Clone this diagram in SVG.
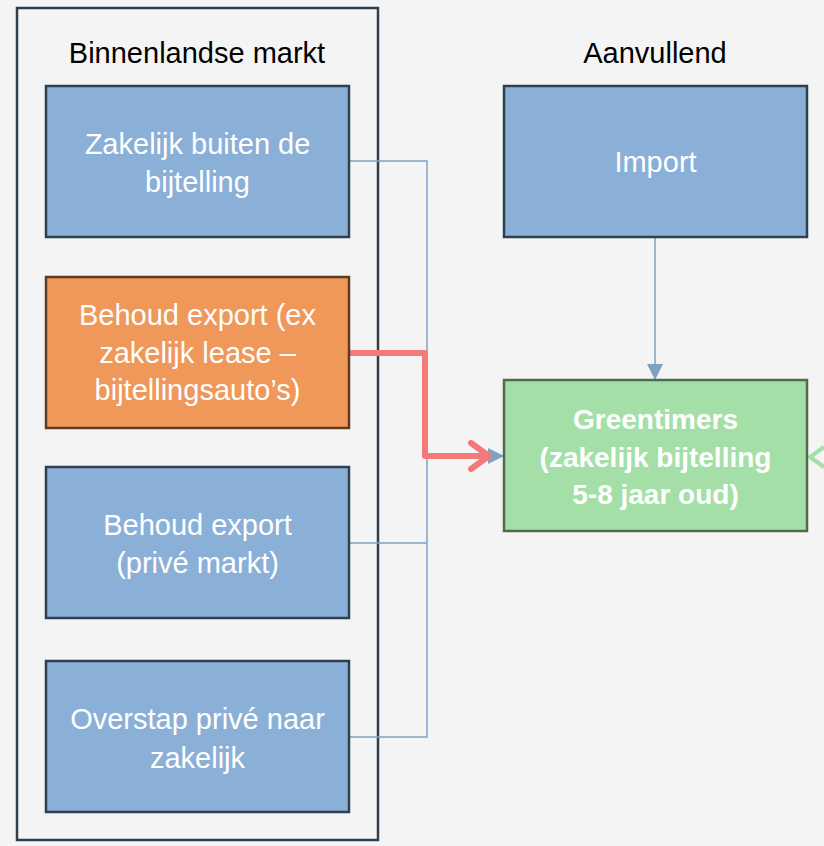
<svg xmlns="http://www.w3.org/2000/svg" width="824" height="846" viewBox="0 0 824 846">
<style>
text{font-family:"Liberation Sans",Arial,sans-serif;font-size:29px;text-anchor:middle}
.t{fill:#000}
.w{fill:#fff}
.b{font-weight:bold;font-size:28px}
.blue{fill:#8bb0d8;stroke:#2e4050;stroke-width:2.5}
.org{fill:#f0975a;stroke:#5e3a1f;stroke-width:2.5}
.grn{fill:#a4dfa8;stroke:#4e6b4f;stroke-width:2.5}
.cb{fill:none;stroke:#7fa2c3;stroke-width:1.5}
</style>
<defs>
<marker id="tri" viewBox="0 0 10 10" refX="10" refY="5" markerWidth="16" markerHeight="16" markerUnits="userSpaceOnUse" orient="auto">
<path d="M0,0 L10,5 L0,10 Z" fill="#7fa2c3"/>
</marker>
</defs>
<rect width="824" height="846" fill="#f4f4f4"/>
<g id="container">
<rect x="17" y="8" width="361" height="832" fill="#f4f4f4" stroke="#2e4050" stroke-width="2.5"/>
<text class="t" x="197" y="63">Binnenlandse markt</text>
</g>
<g id="label-aanvullend"><text class="t" x="655" y="63">Aanvullend</text></g>
<g id="connectors">
<path class="cb" d="M349,161 H427 V737 H349"/>
<path class="cb" d="M349,543 H427"/>
<path class="cb" d="M427,456 H504" marker-end="url(#tri)"/>
<path class="cb" d="M655,237 V380" marker-end="url(#tri)"/>
<path d="M349,353 H425 V456 H488" fill="none" stroke="#f47a7a" stroke-width="6" stroke-linejoin="round"/>
<path d="M471,443 L489,456 L471,469" fill="none" stroke="#f47a7a" stroke-width="6" stroke-linecap="round" stroke-linejoin="round"/>
<path d="M824,447 L810,457 L824,467" fill="none" stroke="#a4dfa8" stroke-width="4"/>
</g>
<g id="n1">
<rect class="blue" x="46" y="86" width="303" height="151"/>
<text class="w" x="197.5" y="154">Zakelijk buiten de</text>
<text class="w" x="197.5" y="192">bijtelling</text>
</g>
<g id="n2">
<rect class="org" x="46" y="277" width="303" height="151"/>
<text class="w" x="197.5" y="325">Behoud export (ex</text>
<text class="w" x="197.5" y="363">zakelijk lease –</text>
<text class="w" x="197.5" y="400">bijtellingsauto’s)</text>
</g>
<g id="n3">
<rect class="blue" x="46" y="467" width="303" height="151"/>
<text class="w" x="197.5" y="535">Behoud export</text>
<text class="w" x="197.5" y="573">(privé markt)</text>
</g>
<g id="n4">
<rect class="blue" x="46" y="661" width="303" height="151"/>
<text class="w" x="197.5" y="729">Overstap privé naar</text>
<text class="w" x="197.5" y="768">zakelijk</text>
</g>
<g id="import">
<rect class="blue" x="504" y="86" width="303" height="151"/>
<text class="w" x="655.5" y="172">Import</text>
</g>
<g id="greentimers">
<rect class="grn" x="504" y="380" width="303" height="151"/>
<text class="w b" x="655.5" y="429">Greentimers</text>
<text class="w b" x="655.5" y="467">(zakelijk bijtelling</text>
<text class="w b" x="655.5" y="504">5-8 jaar oud)</text>
</g>
</svg>
